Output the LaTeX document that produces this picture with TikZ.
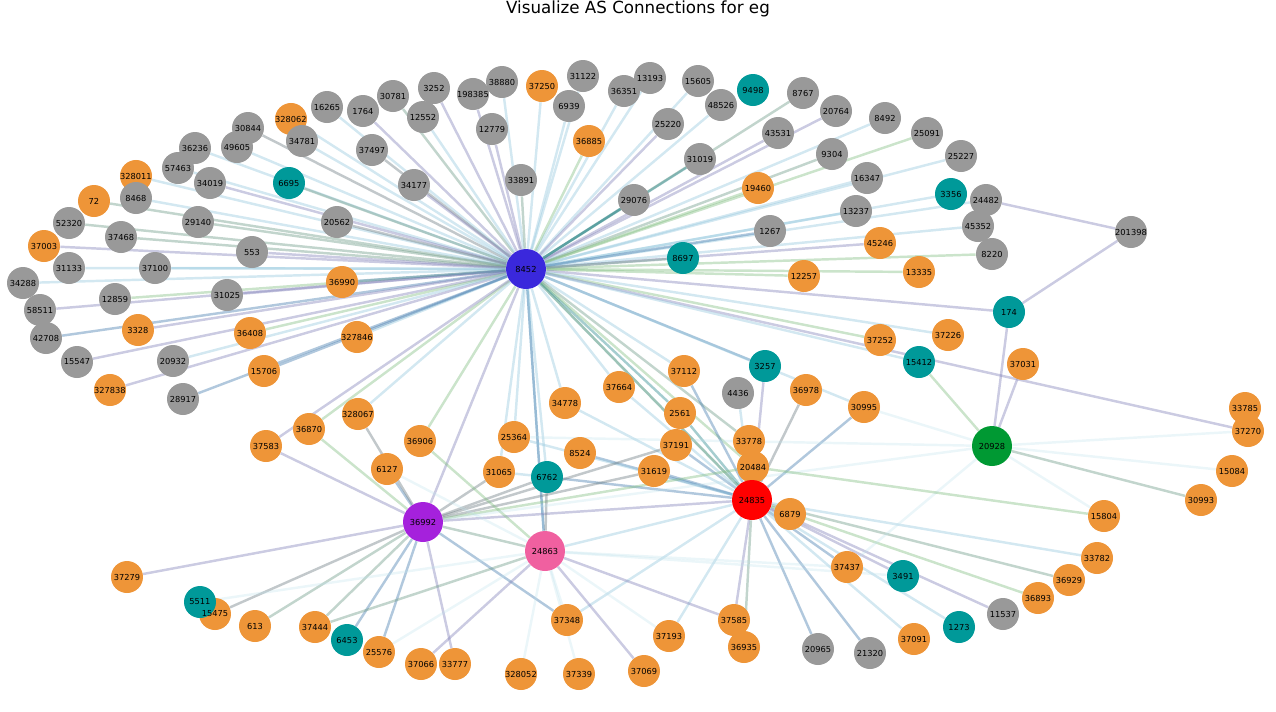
\documentclass[tikz,border=0pt]{standalone}
\usepackage{fontspec}
\setmainfont{DejaVu Sans}
\usepackage{tikz}
\usetikzlibrary{backgrounds}
\definecolor{asorange}{RGB}{238,149,56}
\definecolor{asgrey}{RGB}{153,153,153}
\definecolor{asteal}{RGB}{0,153,153}
\definecolor{ashub}{RGB}{58,40,220}
\definecolor{asred}{RGB}{255,0,0}
\definecolor{asgreen}{RGB}{0,153,51}
\definecolor{aspurple}{RGB}{165,33,220}
\definecolor{aspink}{RGB}{240,96,160}
\definecolor{elbc}{RGB}{150,200,222}
\definecolor{esbc}{RGB}{70,125,175}
\definecolor{epuc}{RGB}{130,130,185}
\definecolor{elgc}{RGB}{130,190,130}
\definecolor{eggc}{RGB}{110,155,135}
\definecolor{egrc}{RGB}{110,125,130}
\definecolor{etlc}{RGB}{40,135,140}
\definecolor{efac}{RGB}{190,225,235}

\begin{document}
\begin{tikzpicture}[x=0.02cm,y=-0.02cm,
    asn/.style={circle,minimum size=0.64cm,inner sep=0pt,font=\fontsize{4.7}{5}\selectfont},
    org/.style={asn,fill=asorange},
    gry/.style={asn,fill=asgrey},
    tea/.style={asn,fill=asteal},
    hub/.style={asn,minimum size=0.8cm},
    edg/.style={line width=1.4pt,opacity=.42},
    elb/.style={edg,draw=elbc},
    esb/.style={edg,draw=esbc},
    epu/.style={edg,draw=epuc},
    elg/.style={edg,draw=elgc},
    egg/.style={edg,draw=eggc},
    egr/.style={edg,draw=egrc},
    etl/.style={edg,draw=etlc},
    efa/.style={edg,draw=efac,opacity=.3}]
\useasboundingbox (0,0) rectangle (1276,711);
\node[anchor=base,font=\fontsize{9.5}{11}\selectfont] (ttl) at (638,13) {Visualize AS Connections for eg};

\foreach \n/\x/\y in {327838/110/390, 37003/44/246, 72/94/201, 328011/136/176, 328062/291/119,
    37250/542/86, 13335/919/272, 45246/880/243, 19460/758/188, 12257/804/276, 36885/589/141,
    36990/342/282, 3328/138/330, 36408/250/333, 327846/357/337, 15706/264/371, 37226/948/335,
    37252/880/340, 37031/1023/364, 33785/1245/408, 37270/1248/431, 15084/1232/471, 30993/1201/500,
    15804/1104/516, 33782/1097/558, 36929/1069/580, 36893/1038/598, 37091/914/639, 37437/847/567,
    37112/684/371, 36978/806/390, 30995/864/407, 37664/619/387, 34778/565/403, 2561/680/413,
    33778/749/441, 37191/676/445, 20484/753/467, 31619/654/471, 25364/514/437, 8524/580/453,
    31065/499/472, 36906/420/441, 328067/358/414, 36870/309/429, 37583/266/446, 6127/387/469,
    37279/127/577, 613/255/626, 37444/315/627, 25576/379/652, 37066/421/664,
    33777/455/664, 37348/567/620, 328052/521/674, 37339/579/674, 37069/644/671, 37193/669/636,
    37585/734/620, 36935/744/647}
  \node[org] (a\n) at (\x,\y) {\n};
\node[org] (a15475) at (215,614) {};
\foreach \n/\x/\y in {9498/753/90, 3356/951/194, 8697/683/258, 6695/289/183, 174/1009/312,
    15412/919/362, 3491/903/576, 1273/959/627, 3257/765/366, 6762/547/477, 5511/200/602, 6453/347/640}
  \node[tea] (a\n) at (\x,\y) {\n};
\foreach \n/\x/\y in {34288/23/283, 58511/40/310, 42708/46/338, 15547/77/362, 31133/69/268,
    52320/69/223, 8468/136/198, 57463/178/168, 36236/195/148, 34019/210/183, 49605/237/147,
    30844/248/128, 34781/302/141, 16265/327/107, 1764/363/111, 30781/393/96, 3252/434/88,
    12552/423/117, 198385/473/94, 38880/502/82, 31122/583/76, 6939/569/106, 13193/650/78,
    36351/624/91, 15605/698/81, 48526/721/105, 8767/803/93, 20764/836/111, 8492/885/118,
    25091/927/133, 25227/961/156, 45352/978/226, 24482/986/200, 8220/992/254, 201398/1131/232,
    13237/856/211, 16347/867/178, 9304/832/154, 43531/778/133, 25220/668/124, 31019/700/159,
    29076/634/200, 1267/770/231, 12779/492/129, 33891/521/180, 37497/372/150, 34177/414/185,
    20562/337/222, 29140/198/222, 37468/121/237, 553/252/252, 37100/155/268, 12859/115/299,
    31025/227/295, 20932/173/361, 28917/183/399, 4436/738/393, 11537/1003/614, 21320/870/653,
    20965/818/649}
  \node[gry] (a\n) at (\x,\y) {\n};
\node[hub,fill=ashub] (a8452) at (526,269) {8452};
\node[hub,fill=asred] (a24835) at (752,500) {24835};
\node[hub,fill=aspurple] (a36992) at (423,522) {36992};
\node[hub,fill=aspink] (a24863) at (545,551) {24863};
\node[hub,fill=asgreen] (a20928) at (992,446) {20928};
\node[org] (a6879) at (790,514) {6879};
\node[asn] (l15475) at (a15475) {15475};

\begin{scope}[on background layer]
\foreach \t/\s in {34288/elb, 58511/epu, 42708/esb, 15547/epu, 327838/epu, 37003/epu, 31133/elb,
    52320/egg, 72/egg, 8468/elb, 328011/elb, 57463/elb, 36236/elb, 34019/epu, 49605/elb, 30844/egr,
    328062/elb, 34781/elb, 16265/elb, 1764/epu, 30781/egg, 3252/epu, 12552/elb, 198385/epu,
    38880/elb, 37250/elb, 31122/elb, 6939/elb, 36351/elb, 13193/elb, 15605/elb, 48526/elb,
    8767/egg, 20764/epu, 8492/elb, 25091/elg, 25227/elb, 3356/elb, 24482/elb, 45352/elb, 8220/elg,
    13335/elg, 45246/epu, 13237/elb, 16347/elb, 9304/egg, 43531/epu, 25220/epu, 31019/etl,
    29076/etl, 19460/elg, 1267/esb, 8697/egg, 12257/elg, 36885/elg, 12779/epu, 33891/egg,
    37497/egr, 34177/epu, 6695/egg, 20562/egr, 29140/egg, 37468/egg, 553/epu, 37100/elb,
    12859/elg, 31025/epu, 36990/esb, 3328/epu, 36408/elg, 327846/elb, 20932/elb, 15706/esb,
    28917/esb, 174/epu, 37226/elb, 37252/elg, 37270/epu, 15412/elb, 24835/esb, 24835/elg,
    36992/epu, 24863/elb, 24863/esb, 6762/elb, 25364/elb, 34778/elb, 37664/elb, 37112/elb,
    36870/elg, 328067/elb, 36906/elg, 37583/epu, 3257/esb, 30995/elb, 2561/etl, 31065/elb,
    20484/elg, 33778/egg}
  \draw[\s] (a8452) -- (a\t);
\foreach \t/\s in {6879/elb, 37437/esb, 3491/epu, 1273/elb, 11537/epu, 36893/elg, 36929/egg,
    33782/elb, 37091/elb, 21320/esb, 20965/esb, 37585/epu, 36935/egg, 37193/elb, 37348/elb,
    33778/egg, 20484/elb, 3257/epu, 4436/elb, 36978/egr, 30995/esb, 37112/esb, 2561/etl,
    37191/esb, 31619/esb, 6762/esb, 8524/esb, 34778/elb, 37664/elb, 25364/elb, 24863/elb}
  \draw[\s] (a24835) -- (a\t);
\foreach \t/\s in {37583/epu, 36870/elg, 6127/esb, 328067/egr, 37279/epu, 15475/egr, 613/egg,
    37444/egg, 6453/esb, 25576/esb, 33777/epu, 37348/esb, 31619/egr, 37191/egr, 24835/epu,
    20484/elg, 31065/egr, 24863/egg, 6762/egr}
  \draw[\s] (a36992) -- (a\t);
\foreach \t/\s in {6762/egr, 37069/epu, 37585/epu, 36906/elg, 37444/egg, 37066/epu, 37348/efa,
    328052/efa, 37339/efa, 37193/efa, 37437/efa, 3491/efa, 5511/efa, 25576/efa, 6127/efa}
  \draw[\s] (a24863) -- (a\t);
\foreach \t/\s in {174/epu, 37031/epu, 15412/elg, 30993/egg, 30995/efa, 15084/efa, 37270/efa,
    15804/efa, 37437/efa, 36992/efa, 25364/efa}
  \draw[\s] (a20928) -- (a\t);
\draw[epu] (a201398) -- (a24482);
\draw[epu] (a201398) -- (a174);
\draw[elg] (a20484) -- (a15804);
\draw[elb] (a6762) -- (a31065);
\end{scope}
\end{tikzpicture}
\end{document}
